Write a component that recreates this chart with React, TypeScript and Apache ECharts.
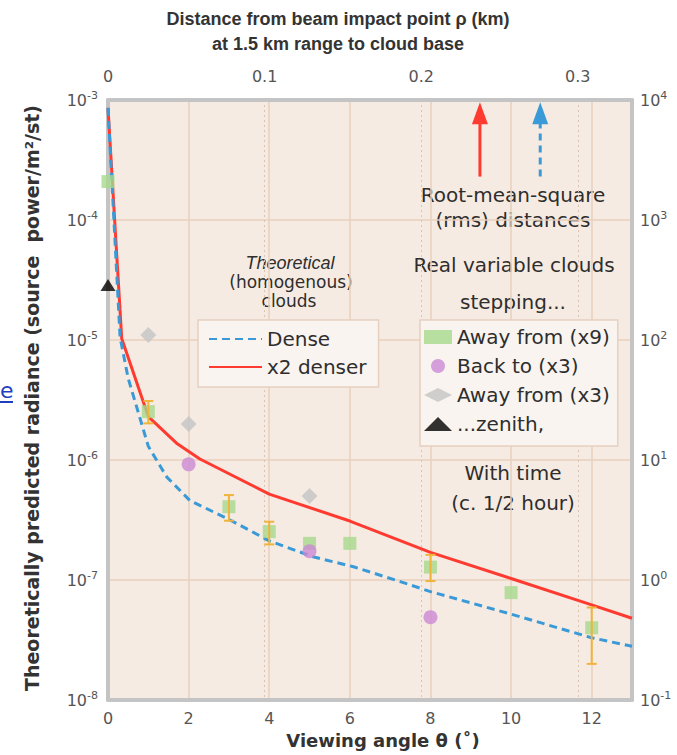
import React, { useEffect, useRef } from 'react';
import * as echarts from 'echarts';

// ---- data ----
const angleMax = 13; // degrees, bottom axis extent
const angleInterval = 2;
const distanceMax = 0.3346; // km, top axis extent
const distanceInterval = 0.1;
const radianceMin = 1e-8;
const radianceMax = 1e-3;
const rightMin = 0.1;
const rightMax = 1e4;

// theoretical curves [angle(deg), radiance]
const denseCurve: [number, number][] = [
  [0, 8.6e-4], [0.3, 1.05e-5], [0.5, 4.8e-6], [0.75, 2.5e-6], [1.0, 1.3e-6],
  [1.46, 7.2e-7], [2.03, 4.6e-7], [3.03, 3.16e-7], [4.0, 2.12e-7], [5.09, 1.56e-7],
  [6.09, 1.29e-7], [7.25, 9.7e-8], [8.0, 8.0e-8], [10.0, 5.2e-8], [12.0, 3.3e-8], [13.0, 2.8e-8],
];
const denserCurve: [number, number][] = [
  [0, 8.6e-4], [0.34, 1.03e-5], [1.0, 2.3e-6], [1.7, 1.38e-6], [2.28, 1.02e-6],
  [4.0, 5.2e-7], [6.0, 3.1e-7], [8.0, 1.7e-7], [10.0, 1.03e-7], [12.0, 6.2e-8], [13.0, 4.8e-8],
];

// measured points
const awayFrom9: [number, number][] = [
  [0, 2.09e-4], [1, 2.53e-6], [3, 4.08e-7], [4, 2.53e-7], [5, 2.02e-7],
  [6, 2.02e-7], [8, 1.28e-7], [10, 7.85e-8], [12, 4.0e-8],
];
const backTo3: [number, number][] = [[2, 9.2e-7], [5, 1.74e-7], [8, 4.9e-8]];
const awayFrom3: [number, number][] = [[1, 1.1e-5], [2, 2.0e-6], [5, 5.0e-7]];
const zenith: [number, number][] = [[0, 2.87e-5]];
// [angle, low, high]
const errorBars: [number, number, number][] = [
  [1, 2.02e-6, 3.1e-6], [3, 3.12e-7, 5.1e-7], [4, 1.98e-7, 3.06e-7],
  [8, 9.8e-8, 1.62e-7], [12, 2.0e-8, 5.9e-8],
];

// rms distance arrows: [distance km, bottom value, tip value, style index]
const rmsArrows: [number, number, number, number][] = [
  [0.2375, 2.3e-4, 9.6e-4, 0],
  [0.276, 2.3e-4, 9.6e-4, 1],
];

const theoryNames = ['Dense', 'x2 denser'];
const measuredNames = ['Away from (x9)', 'Back to (x3)', 'Away from (x3)', '...zenith,'];

const FONT = 'DejaVu Sans';
const TICK_COLOR = '#555';
const TEXT_COLOR = '#2e2e2e';
const RED = '#ff3a30';
const BLUE = '#3a9ad8';

const logLabel = (v: number) => {
  const e = Math.round(Math.log10(v));
  return `{b|10}{s|${e}}`;
};
const logRich = {
  b: { fontSize: 16, color: TICK_COLOR, fontFamily: FONT },
  s: { fontSize: 11, color: TICK_COLOR, fontFamily: FONT, padding: [0, 0, 10, 0] },
};

export default function App() {
  const ref = useRef<HTMLDivElement>(null);

  useEffect(() => {
    if (!ref.current) return;
    const chart = echarts.init(ref.current, undefined, { renderer: 'svg' });

    const centerText = (x: number, y: number, text: string, size = 20, extra: any = {}) => ({
      type: 'text', x, y,
      style: { text, fontFamily: FONT, fontSize: size, fill: TEXT_COLOR, align: 'center', verticalAlign: 'middle', ...extra },
    });

    const option: any = {
      animation: false,
      backgroundColor: '#ffffff',
      grid: {
        left: 108, right: 45, top: 100, bottom: 55,
        show: true, backgroundColor: '#f6ebe2', borderColor: '#dcc2d2', borderWidth: 1,
      },
      xAxis: [
        {
          type: 'value', position: 'bottom', min: 0, max: angleMax, interval: angleInterval,
          axisLine: { show: true, onZero: false, lineStyle: { color: '#c4c4c4', width: 4 } },
          axisTick: { show: false },
          axisLabel: { showMaxLabel: false, margin: 10, fontSize: 16, color: TICK_COLOR, fontFamily: FONT },
          splitLine: { show: true, lineStyle: { color: '#e8d0bd', width: 1.5 } },
        },
        {
          type: 'value', position: 'top', min: 0, max: distanceMax, interval: distanceInterval,
          axisLine: { show: true, onZero: false, lineStyle: { color: '#c4c4c4', width: 4 } },
          axisTick: { show: false },
          axisLabel: {
            showMaxLabel: false, margin: 16, fontSize: 16, color: TICK_COLOR, fontFamily: FONT,
            formatter: (v: number) => (v === 0 ? '0' : v.toFixed(1)),
          },
          splitLine: { show: true, lineStyle: { color: '#dcc3b0', width: 1, type: [2, 3] } },
        },
      ],
      yAxis: [
        {
          type: 'log', logBase: 10, min: radianceMin, max: radianceMax, position: 'left',
          axisLine: { show: true, onZero: false, lineStyle: { color: '#c4c4c4', width: 4 } },
          axisTick: { show: false },
          axisLabel: { margin: 10, formatter: logLabel, rich: logRich },
          splitLine: { show: true, lineStyle: { color: '#e8d0bd', width: 1.5 } },
        },
        {
          type: 'log', logBase: 10, min: rightMin, max: rightMax, position: 'right',
          axisLine: { show: true, onZero: false, lineStyle: { color: '#c4c4c4', width: 4 } },
          axisTick: { show: false },
          axisLabel: { margin: 8, formatter: logLabel, rich: logRich },
          splitLine: { show: false },
        },
      ],
      legend: [
        {
          orient: 'vertical', left: 198, top: 320,
          data: theoryNames, selectedMode: false,
          backgroundColor: '#f9f4ef', borderColor: '#e6d0c0', borderWidth: 1.5,
          padding: [9, 12, 10, 10], itemWidth: 53, itemHeight: 14, itemGap: 8,
          itemStyle: { opacity: 0 },
          textStyle: { fontSize: 20, color: TEXT_COLOR, fontFamily: FONT },
        },
        {
          orient: 'vertical', left: 420, top: 320,
          data: measuredNames, selectedMode: false,
          backgroundColor: '#f9f4ef', borderColor: '#e6d0c0', borderWidth: 1.5,
          padding: [7, 8, 12, 4], itemWidth: 28, itemHeight: 14, itemGap: 9,
          textStyle: { fontSize: 20, color: TEXT_COLOR, fontFamily: FONT },
        },
      ],
      series: [
        {
          name: 'x2 denser', type: 'line', xAxisIndex: 0, yAxisIndex: 0,
          data: denserCurve, symbol: 'none', showSymbol: false, z: 2,
          lineStyle: { color: RED, width: 3 }, itemStyle: { color: RED },
        },
        {
          name: 'Dense', type: 'line', xAxisIndex: 0, yAxisIndex: 0,
          data: denseCurve, symbol: 'none', showSymbol: false, z: 3,
          lineStyle: { color: BLUE, width: 3, type: [8, 5] }, itemStyle: { color: BLUE },
        },
        {
          name: 'Away from (x9)', type: 'scatter', data: awayFrom9, symbol: 'rect', symbolSize: 13, z: 4,
          itemStyle: { color: '#a6d98c' },
        },
        {
          name: 'Back to (x3)', type: 'scatter', data: backTo3, symbol: 'circle', symbolSize: 14, z: 4,
          itemStyle: { color: '#cc8ad6' },
        },
        {
          name: 'Away from (x3)', type: 'scatter', data: awayFrom3, symbol: 'diamond', symbolSize: 16, z: 4,
          itemStyle: { color: '#c4c4c4' },
        },
        {
          name: '...zenith,', type: 'scatter', data: zenith, symbol: 'triangle', symbolSize: [15, 12], z: 4,
          itemStyle: { color: '#000000' },
        },
        {
          name: 'errors', type: 'custom', xAxisIndex: 0, yAxisIndex: 0, z: 5,
          data: errorBars, encode: { x: 0, y: [1, 2] },
          renderItem: (_p: any, api: any) => {
            const x = api.value(0);
            const lo = api.coord([x, api.value(1)]);
            const hi = api.coord([x, api.value(2)]);
            const w = 5;
            const st = { stroke: '#f0b43c', lineWidth: 2 };
            return {
              type: 'group',
              children: [
                { type: 'line', shape: { x1: lo[0], y1: lo[1], x2: hi[0], y2: hi[1] }, style: st },
                { type: 'line', shape: { x1: lo[0] - w, y1: lo[1], x2: lo[0] + w, y2: lo[1] }, style: st },
                { type: 'line', shape: { x1: hi[0] - w, y1: hi[1], x2: hi[0] + w, y2: hi[1] }, style: st },
              ],
            };
          },
        },
        {
          name: 'rms', type: 'custom', xAxisIndex: 1, yAxisIndex: 0, z: 5,
          data: rmsArrows, encode: { x: 0, y: [1, 2] },
          renderItem: (_p: any, api: any) => {
            const x = api.value(0);
            const bot = api.coord([x, api.value(1)]);
            const tip = api.coord([x, api.value(2)]);
            const isBlue = api.value(3) === 1;
            const color = isBlue ? BLUE : RED;
            const headLen = 22;
            const headHalf = 8;
            return {
              type: 'group',
              children: [
                {
                  type: 'line',
                  shape: { x1: bot[0], y1: bot[1], x2: tip[0], y2: tip[1] + headLen - 1 },
                  style: { stroke: color, lineWidth: 3, lineDash: isBlue ? [7, 5] : null },
                },
                {
                  type: 'polygon',
                  shape: { points: [[tip[0], tip[1]], [tip[0] - headHalf, tip[1] + headLen], [tip[0] + headHalf, tip[1] + headLen]] },
                  style: { fill: color },
                },
              ],
            };
          },
        },
      ],
      graphic: [
        {
          type: 'text', x: 338, y: 19,
          style: { text: 'Distance from beam impact point ρ (km)', fontFamily: 'Liberation Sans', fontWeight: 'bold', fontSize: 18, fill: '#333', align: 'center', verticalAlign: 'middle' },
        },
        {
          type: 'text', x: 338, y: 44,
          style: { text: 'at 1.5 km range to cloud base', fontFamily: 'Liberation Sans', fontWeight: 'bold', fontSize: 18, fill: '#333', align: 'center', verticalAlign: 'middle' },
        },
        {
          type: 'text', x: 383, y: 740,
          style: { text: 'Viewing angle θ (˚)', fontFamily: FONT, fontWeight: 'bold', fontSize: 18, fill: '#333', align: 'center', verticalAlign: 'middle' },
        },
        {
          type: 'text', x: 32, y: 398, rotation: Math.PI / 2,
          style: { text: 'Theoretically predicted radiance (source  power/m²/st)', fontFamily: FONT, fontWeight: 'bold', fontSize: 19, fill: '#333', align: 'center', verticalAlign: 'middle' },
        },
        {
          type: 'text', x: 290, y: 263,
          style: { text: 'Theoretical', fontFamily: 'Liberation Sans', fontStyle: 'italic', fontSize: 18, fill: TEXT_COLOR, align: 'center', verticalAlign: 'middle' },
        },
        centerText(291, 282, '(homogenous)', 17),
        centerText(289, 301, 'clouds', 17),
        centerText(513, 195, 'Root-mean-square'),
        centerText(513, 220, '(rms) distances'),
        centerText(514, 265, 'Real variable clouds'),
        centerText(513, 302, 'stepping...'),
        centerText(513, 473, 'With time'),
        centerText(513, 503, '(c. 1/2 hour)'),
        { type: 'text', x: 0, y: 390, style: { text: 'e', fontFamily: FONT, fontSize: 22, fill: '#1f3fbf', align: 'left', verticalAlign: 'middle' } },
        { type: 'rect', shape: { x: 0, y: 401, width: 13, height: 2 }, style: { fill: '#1f3fbf' } },
      ],
    };

    chart.setOption(option);
    return () => chart.dispose();
  }, []);

  return (
    <div
      ref={ref}
      style={{ position: 'absolute', left: 0, top: 0, width: 677, height: 755, background: '#fff' }}
    />
  );
}
